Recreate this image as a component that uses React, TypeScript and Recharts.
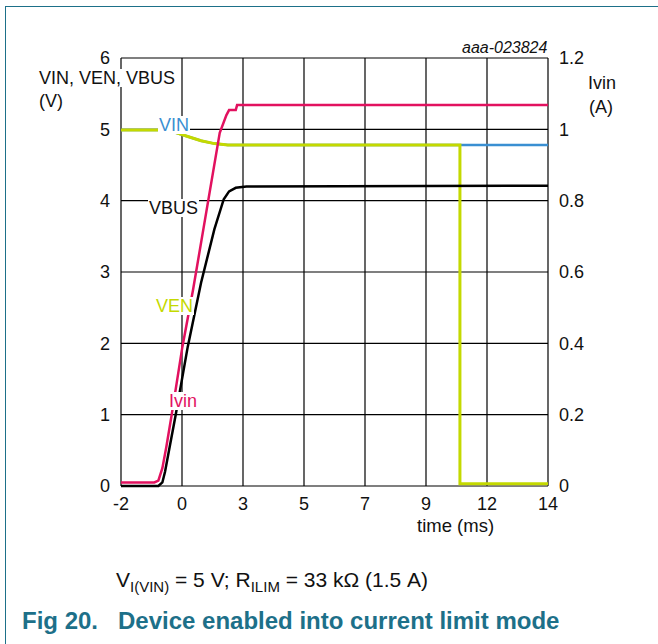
import { LineChart, Line, XAxis, YAxis, CartesianGrid } from "recharts";

// time axis: 7 equal divisions over -2..14 ms, labels as printed on the figure
const xTickLabels = ["-2", "0", "3", "5", "7", "9", "12", "14"];
const vTicks = [0, 1, 2, 3, 4, 5, 6];
const aTicks = [0, 0.2, 0.4, 0.6, 0.8, 1, 1.2];

// Ivin (A), right axis
const ivinTime = [-2, -0.75, -0.6, -0.45, -0.3, -0.1, 0.3, 0.7, 1.2, 1.7, 1.95, 2.05, 2.3, 2.35, 14];
const ivinAmps = [0.01, 0.01, 0.015, 0.05, 0.11, 0.2, 0.39, 0.55, 0.77, 0.99, 1.04, 1.054, 1.054, 1.068, 1.068];

// VBUS (V)
const vbusTime = [-2, -0.6, -0.45, -0.35, -0.2, 0.05, 0.5, 1.0, 1.5, 1.85, 2.05, 2.3, 2.7, 14];
const vbusVolts = [0, 0, 0.05, 0.2, 0.5, 1.0, 1.95, 2.85, 3.6, 4.02, 4.13, 4.18, 4.2, 4.21];

// VIN (V)
const vinTime = [-2, -0.3, 0, 0.5, 1.0, 1.5, 2.0, 2.5, 14];
const vinVolts = [4.99, 4.99, 4.96, 4.9, 4.84, 4.8, 4.78, 4.78, 4.78];

// VEN (V)
const venTime = [-2, -0.3, 0, 0.5, 1.0, 1.5, 2.0, 2.5, 10.7, 10.7, 14];
const venVolts = [4.99, 4.99, 4.96, 4.9, 4.84, 4.8, 4.78, 4.78, 4.78, 0.03, 0.03];

const zip = (t: number[], v: number[]) => t.map((x, i) => ({ t: x, v: v[i] }));

const xTicks = xTickLabels.map((_, i) => -2 + (i * 16) / (xTickLabels.length - 1));

const FONT = "'Liberation Sans', Arial, sans-serif";
const RED = "#e2115f";
const GREEN = "#c4d900";
const BLUE = "#3a8fd2";
const TEAL = "#1d7089";

const tickStyle = { fontSize: 18, fill: "#111", fontFamily: FONT };

function Note({ x, y, color, children }: { x: number; y: number; color: string; children: any }) {
  return (
    <div
      style={{
        position: "absolute",
        left: x,
        top: y,
        transform: "translateY(-50%)",
        color,
        background: "#fff",
        padding: "0 1px",
        fontSize: 18,
        lineHeight: "18px",
        fontFamily: FONT,
        whiteSpace: "nowrap",
      }}
    >
      {children}
    </div>
  );
}

function Text({ x, y, children, style }: { x: number; y: number; children: any; style?: any }) {
  return (
    <div
      style={{
        position: "absolute",
        left: x,
        top: y,
        transform: "translateY(-50%)",
        fontSize: 18,
        lineHeight: "18px",
        fontFamily: FONT,
        color: "#111",
        whiteSpace: "nowrap",
        ...style,
      }}
    >
      {children}
    </div>
  );
}

export default function App() {
  return (
    <div style={{ position: "relative", width: 658, height: 644, background: "#fff", overflow: "hidden" }}>
      <style>{"body{margin:0}"}</style>
      {/* frame */}
      <div style={{ position: "absolute", left: 5, top: 6, width: 660, height: 650, borderTop: `1.5px solid ${TEAL}`, borderLeft: `1.5px solid ${TEAL}` }} />
      <LineChart width={658} height={644} margin={{ top: 58, right: 0, bottom: 118, left: 0 }}>
        <CartesianGrid yAxisId="v" stroke="#000" strokeWidth={1.2} />
        <XAxis
          dataKey="t"
          type="number"
          domain={[-2, 14]}
          ticks={xTicks}
          tickFormatter={(_v: number, i: number) => xTickLabels[i]}
          axisLine={false}
          tickLine={false}
          tickSize={0}
          tickMargin={11}
          height={40}
          tick={tickStyle}
          interval={0}
        />
        <YAxis
          yAxisId="v"
          domain={[0, 6]}
          ticks={vTicks}
          width={121}
          axisLine={false}
          tickLine={false}
          tickSize={0}
          tickMargin={11}
          tick={tickStyle}
          interval={0}
        />
        <YAxis
          yAxisId="a"
          orientation="right"
          domain={[0, 1.2]}
          ticks={aTicks}
          tickFormatter={(v: number) => String(Math.round(v * 10) / 10)}
          width={110}
          axisLine={false}
          tickLine={false}
          tickSize={0}
          tickMargin={11}
          tick={tickStyle}
          interval={0}
        />
        <Line yAxisId="v" data={zip(vinTime, vinVolts)} dataKey="v" type="linear" stroke={BLUE} strokeWidth={2.5} dot={false} isAnimationActive={false} />
        <Line yAxisId="v" data={zip(venTime, venVolts)} dataKey="v" type="linear" stroke={GREEN} strokeWidth={3} dot={false} isAnimationActive={false} />
        <Line yAxisId="v" data={zip(vbusTime, vbusVolts)} dataKey="v" type="linear" stroke="#000" strokeWidth={2.5} dot={false} isAnimationActive={false} />
        <Line yAxisId="a" data={zip(ivinTime, ivinAmps)} dataKey="v" type="linear" stroke={RED} strokeWidth={2.5} dot={false} isAnimationActive={false} />
      </LineChart>

      <Text x={39} y={78} style={{ background: "#fff", paddingRight: 1 }}>VIN, VEN, VBUS</Text>
      <Text x={39} y={101}>(V)</Text>
      <Text x={588} y={83}>Ivin</Text>
      <Text x={589} y={107}>(A)</Text>
      <Text x={462} y={48} style={{ fontSize: 16, fontStyle: "italic" }}>aaa-023824</Text>
      <Text x={417} y={525} style={{ fontSize: 18.5, lineHeight: "17px" }}>time (ms)</Text>

      <Note x={158} y={125} color={BLUE}>VIN</Note>
      <Note x={148} y={208} color="#111">VBUS</Note>
      <Note x={155} y={306} color={GREEN}>VEN</Note>
      <Note x={168} y={401} color={RED}>Ivin</Note>

      <Text x={116} y={580} style={{ fontSize: 21 }}>
        V<sub style={{ fontSize: 15, lineHeight: 0 }}>I(VIN)</sub> = 5 V; R<sub style={{ fontSize: 15, lineHeight: 0 }}>ILIM</sub> = 33 kΩ (1.5 A)
      </Text>
      <Text x={22} y={621} style={{ fontSize: 24, lineHeight: "24px", fontWeight: "bold", color: TEAL }}>
        {"Fig 20.\u00a0\u00a0\u00a0Device enabled into current limit mode"}
      </Text>
    </div>
  );
}
